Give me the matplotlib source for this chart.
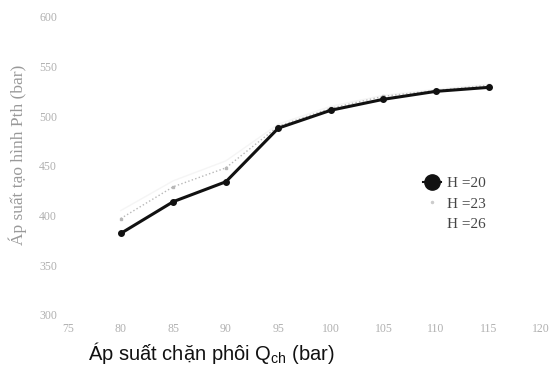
import matplotlib.pyplot as plt
from matplotlib.lines import Line2D

# blank holder pressure Q_ch (bar)
q_ch = [80, 85, 90, 95, 100, 105, 110, 115]

# forming pressure Pth (bar) per blank height H
p_h20 = [382, 414, 434, 488, 506, 517, 525, 529]
p_h23 = [397, 429, 448, 490, 508, 520, 526, 531]
p_h26 = [405, 435, 455, 492, 510, 521, 527, 532]

x_ticks = [75, 80, 85, 90, 95, 100, 105, 110, 115, 120]
y_ticks = [300, 350, 400, 450, 500, 550, 600]
labels = ["H =20", "H =23", "H =26"]

fig = plt.figure(figsize=(5.59, 3.74), dpi=100)
ax = fig.add_axes([0.122, 0.158, 0.846, 0.797])

ax.plot(q_ch, p_h26, color="#f5f5f5", linewidth=1, zorder=1)
ax.plot(q_ch, p_h23, color="#b8b8b8", linewidth=1, linestyle=":",
        marker="s", markersize=2, zorder=2)
ax.plot(q_ch, p_h20, color="#111111", linewidth=2.2, marker="o",
        markersize=4, zorder=3)

ax.set_xlim(75, 120)
ax.set_ylim(300, 600)
ax.set_xticks(x_ticks)
ax.set_yticks(y_ticks)
ax.tick_params(axis="y", length=0, labelsize=8.5, labelcolor="#b0b0b0", pad=8)
ax.tick_params(axis="x", length=0, labelsize=8.5, labelcolor="#b0b0b0", pad=6)
for lab in ax.get_xticklabels() + ax.get_yticklabels():
    lab.set_family("Liberation Serif")
for s in ax.spines.values():
    s.set_visible(False)

fig.text(0.032, 0.586, "Áp suất tạo hình Pth (bar)", family="Liberation Serif",
         fontsize=12.5, color="#999999", rotation=90, ha="center", va="center")
fig.text(0.157, 0.038, "Áp suất chặn phôi Q$_{\\mathregular{ch}}$ (bar)",
         family="Liberation Sans", fontsize=14.5, color="#111111")

handles = [
    Line2D([], [], color="#111111", marker="o", markersize=11, linestyle="-",
           linewidth=1.5),
    Line2D([], [], color="#cccccc", marker=".", markersize=3, linestyle="none"),
    Line2D([], [], color="white", linestyle="none"),
]
leg = fig.legend(handles, labels, loc="upper left",
                 bbox_to_anchor=(0.732, 0.565), frameon=False,
                 handlelength=1.2, handletextpad=0.4, labelspacing=0.45,
                 prop={"family": "Liberation Serif", "size": 11})
for t in leg.get_texts():
    t.set_color("#444444")

fig.savefig("out.png", dpi=100)
